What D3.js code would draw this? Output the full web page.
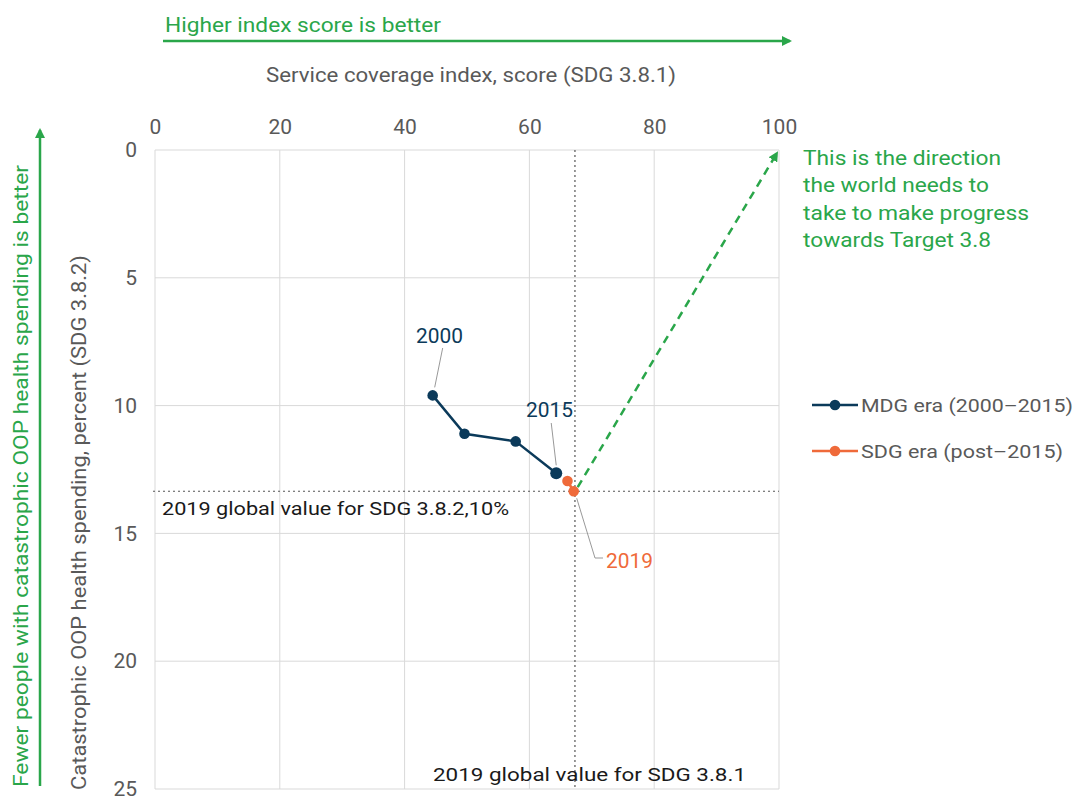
<!DOCTYPE html>
<html>
<head>
<meta charset="utf-8">
<script src="https://cdn.jsdelivr.net/npm/d3@7"></script>
<style>
  body { margin: 0; background: #fff; font-family: Roboto, "Noto Sans", sans-serif; }
  svg text { font-family: Roboto, "Noto Sans", sans-serif; }
</style>
</head>
<body>
<svg id="chart"></svg>
<script>
// data
const mdgYears = [2000, 2005, 2010, 2015];
const mdgCoverage = [44.5, 49.6, 57.8, 64.3];
const mdgCatastrophic = [9.6, 11.1, 11.4, 12.65];

const sdgYears = [2017, 2019];
const sdgCoverage = [66.1, 67.1];
const sdgCatastrophic = [12.95, 13.35];

const globalCoverage2019 = 67.3;
const globalCatastrophic2019 = 13.35;

const xTicks = [0, 20, 40, 60, 80, 100];
const yTicks = [0, 5, 10, 15, 20, 25];

const green = "#2aa64a";
const navy = "#0b3a5a";
const orange = "#ef6a3a";

const width = 1074, height = 796;
const margin = { top: 150, right: 295, bottom: 7, left: 155 };

const svg = d3.select("#chart").attr("width", width).attr("height", height);

const x = d3.scaleLinear().domain([0, 100]).range([margin.left, width - margin.right]);
const y = d3.scaleLinear().domain([0, 25]).range([margin.top, height - margin.bottom]);

// text width helper so the wider reference font is matched
function fit(sel, w) {
  return sel.attr("textLength", w).attr("lengthAdjust", "spacingAndGlyphs");
}

svg.append("defs").append("marker")
  .attr("id", "arrowGreen")
  .attr("viewBox", "0 0 10 10")
  .attr("refX", 8).attr("refY", 5)
  .attr("markerWidth", 4).attr("markerHeight", 4)
  .attr("orient", "auto")
  .append("path").attr("d", "M0,0 L10,5 L0,10 z").attr("fill", green);

// grid
svg.append("g").selectAll("line").data(xTicks).join("line")
  .attr("x1", d => x(d)).attr("x2", d => x(d))
  .attr("y1", y(0)).attr("y2", y(25))
  .attr("stroke", "#d9d9d9").attr("stroke-width", 1);
svg.append("g").selectAll("line").data(yTicks).join("line")
  .attr("x1", x(0)).attr("x2", x(100))
  .attr("y1", d => y(d)).attr("y2", d => y(d))
  .attr("stroke", "#d9d9d9").attr("stroke-width", 1);

// axes (labels only)
const xAxis = svg.append("g")
  .attr("transform", `translate(0,${margin.top - 16})`)
  .call(d3.axisTop(x).tickValues(xTicks).tickSize(0).tickPadding(0));
xAxis.select(".domain").remove();
xAxis.selectAll("text").attr("font-size", 21).attr("fill", "#595959")
  .attr("font-family", "Roboto, sans-serif");

const yAxis = svg.append("g")
  .attr("transform", `translate(${margin.left - 18},0)`)
  .call(d3.axisLeft(y).tickValues(yTicks).tickSize(0).tickPadding(0));
yAxis.select(".domain").remove();
yAxis.selectAll("text").attr("font-size", 21).attr("fill", "#595959")
  .attr("font-family", "Roboto, sans-serif");

// axis titles
fit(svg.append("text")
  .attr("x", 266).attr("y", 82)
  .attr("font-size", 20).attr("fill", "#595959")
  .text("Service coverage index, score (SDG 3.8.1)"), 410);

fit(svg.append("text")
  .attr("transform", "translate(86,790) rotate(-90)")
  .attr("font-size", 20).attr("fill", "#595959")
  .text("Catastrophic OOP health spending, percent (SDG 3.8.2)"), 535);

// "better" arrows
svg.append("line")
  .attr("x1", 163).attr("x2", 790).attr("y1", 41).attr("y2", 41)
  .attr("stroke", green).attr("stroke-width", 2.5)
  .attr("marker-end", "url(#arrowGreen)");
fit(svg.append("text")
  .attr("x", 165).attr("y", 32)
  .attr("font-size", 21).attr("fill", green)
  .text("Higher index score is better"), 276);

svg.append("line")
  .attr("x1", 40).attr("x2", 40).attr("y1", 786).attr("y2", 130)
  .attr("stroke", green).attr("stroke-width", 2.5)
  .attr("marker-end", "url(#arrowGreen)");
fit(svg.append("text")
  .attr("transform", "translate(28,787) rotate(-90)")
  .attr("font-size", 21).attr("fill", green)
  .text("Fewer people with catastrophic OOP health spending is better"), 622);

// reference lines
svg.append("line")
  .attr("x1", x(globalCoverage2019)).attr("x2", x(globalCoverage2019))
  .attr("y1", y(0)).attr("y2", y(25))
  .attr("stroke", "#555").attr("stroke-width", 1.2).attr("stroke-dasharray", "2,3");
svg.append("line")
  .attr("x1", x(0) - 2).attr("x2", x(100))
  .attr("y1", y(globalCatastrophic2019)).attr("y2", y(globalCatastrophic2019))
  .attr("stroke", "#555").attr("stroke-width", 1.2).attr("stroke-dasharray", "2,3");

fit(svg.append("text")
  .attr("x", 162).attr("y", 515)
  .attr("font-size", 19).attr("fill", "#1a1a1a")
  .text("2019 global value for SDG 3.8.2,10%"), 347);
fit(svg.append("text")
  .attr("x", 433).attr("y", 781)
  .attr("font-size", 19).attr("fill", "#1a1a1a")
  .text("2019 global value for SDG 3.8.1"), 313);

// direction arrow
svg.append("line")
  .attr("x1", x(sdgCoverage[1]) + 4).attr("y1", y(sdgCatastrophic[1]) - 4)
  .attr("x2", x(100) - 2).attr("y2", y(0) + 3)
  .attr("stroke", green).attr("stroke-width", 2.5)
  .attr("stroke-dasharray", "8,6")
  .attr("marker-end", "url(#arrowGreen)");

const noteLines = ["This is the direction", "the world needs to", "take to make progress", "towards Target 3.8"];
const noteWidths = [198, 186, 226, 188];
svg.append("g").selectAll("text").data(noteLines).join("text")
  .attr("x", 803).attr("y", (d, i) => 165 + i * 27.3)
  .attr("font-size", 20).attr("fill", green)
  .attr("textLength", (d, i) => noteWidths[i]).attr("lengthAdjust", "spacingAndGlyphs")
  .text(d => d);

// series
const mdg = mdgYears.map((yr, i) => ({ year: yr, cov: mdgCoverage[i], cat: mdgCatastrophic[i] }));
const sdg = sdgYears.map((yr, i) => ({ year: yr, cov: sdgCoverage[i], cat: sdgCatastrophic[i] }));

const line = d3.line().x(d => x(d.cov)).y(d => y(d.cat));

svg.append("path").datum(mdg).attr("d", line)
  .attr("fill", "none").attr("stroke", navy).attr("stroke-width", 2.5);
svg.append("g").selectAll("circle").data(mdg).join("circle")
  .attr("cx", d => x(d.cov)).attr("cy", d => y(d.cat))
  .attr("r", (d, i) => i === mdg.length - 1 ? 6 : 5.3)
  .attr("fill", navy);

svg.append("path").datum(sdg).attr("d", line)
  .attr("fill", "none").attr("stroke", orange).attr("stroke-width", 2.5);
svg.append("g").selectAll("circle").data(sdg).join("circle")
  .attr("cx", d => x(d.cov)).attr("cy", d => y(d.cat))
  .attr("r", 5.3).attr("fill", orange);

// point labels with leader lines
const leader = "#999";
const p2000 = mdg[0], p2015 = mdg[3], p2019 = sdg[1];
svg.append("line")
  .attr("x1", x(p2000.cov) + 2).attr("y1", y(p2000.cat) - 8)
  .attr("x2", x(p2000.cov) + 10).attr("y2", 348)
  .attr("stroke", leader).attr("stroke-width", 1);
fit(svg.append("text")
  .attr("x", 416).attr("y", 343)
  .attr("font-size", 20).attr("fill", navy).text("2000"), 47);

svg.append("line")
  .attr("x1", x(p2015.cov)).attr("y1", y(p2015.cat) - 8)
  .attr("x2", x(p2015.cov) - 5).attr("y2", 423)
  .attr("stroke", leader).attr("stroke-width", 1);
fit(svg.append("text")
  .attr("x", 526).attr("y", 417)
  .attr("font-size", 20).attr("fill", navy).text("2015"), 47);

svg.append("polyline")
  .attr("points", `${x(p2019.cov) + 3},${y(p2019.cat) + 7} 595,558 603,558`)
  .attr("fill", "none").attr("stroke", leader).attr("stroke-width", 1);
fit(svg.append("text")
  .attr("x", 606).attr("y", 568)
  .attr("font-size", 20).attr("fill", orange).text("2019"), 47);

// legend
const legendLabels = ["MDG era (2000\u20132015)", "SDG era (post\u20132015)"];
const legendColors = [navy, orange];
const legendWidths = [212, 202];
const lg = svg.append("g").selectAll("g").data(legendLabels).join("g")
  .attr("transform", (d, i) => `translate(812,${405 + i * 46})`);
lg.append("line").attr("x1", 0).attr("x2", 46)
  .attr("stroke", (d, i) => legendColors[i]).attr("stroke-width", 2.5);
lg.append("circle").attr("cx", 23).attr("r", 5.3).attr("fill", (d, i) => legendColors[i]);
lg.append("text").attr("x", 49).attr("y", 7)
  .attr("font-size", 19).attr("fill", "#595959")
  .attr("textLength", (d, i) => legendWidths[i]).attr("lengthAdjust", "spacingAndGlyphs")
  .text(d => d);
</script>
</body>
</html>
